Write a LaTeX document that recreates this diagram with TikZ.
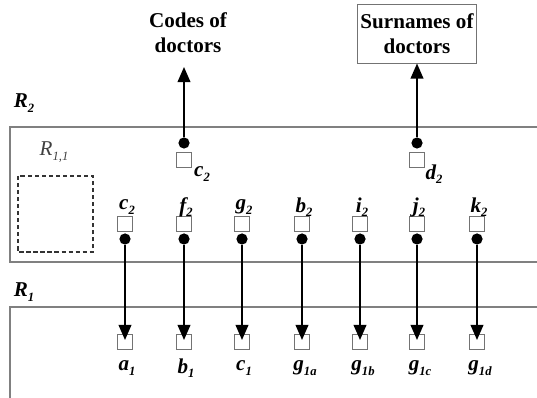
\documentclass[tikz,border=0pt]{standalone}
\usepackage{fontspec}
\setmainfont{Liberation Serif}
\usepackage{tikz}
\usetikzlibrary{arrows.meta,positioning}

% small lowered index
\newcommand{\ix}[1]{\raisebox{-0.45ex}{\fontsize{9}{9}\selectfont #1}}

\begin{document}
\begin{tikzpicture}[x=0.025cm,y=-0.025cm,
	slot/.style={rectangle,draw=black!55,fill=white,minimum size=0.36cm,inner sep=0pt,line width=0.6pt},
	pin/.style={circle,fill=black,minimum size=0.28cm,inner sep=0pt},
	lbl/.style={font=\fontsize{15}{17}\selectfont\bfseries\itshape,inner sep=1pt},
	rel/.style={font=\fontsize{15}{17}\selectfont\bfseries\itshape,inner sep=1pt},
	attr/.style={font=\fontsize{15}{18}\selectfont\bfseries,align=center,inner sep=2pt},
	link/.style={-{Triangle[length=3.8mm,width=3.2mm]},line width=1.2pt},
	wall/.style={draw=black!50,line width=0.8pt}
	]
	\useasboundingbox (0,0) rectangle (537,398);

	% relation frames, open to the right
	\draw[wall] (537,127) -- (10,127) -- (10,262) -- (537,262);
	\draw[wall] (537,307) -- (10,307) -- (10,398);
	\node[rel] (r2) at (24,103) {R\ix{2}};
	\node[rel] (r1) at (24,292) {R\ix{1}};

	% nested relation
	\node[font=\fontsize{15}{17}\selectfont\itshape,text=black!75] (r11) at (54,152) {R\ix{1,1}};
	\draw[black!80,densely dashed,line width=1pt] (18,176) rectangle (93,252);

	% output attributes
	\node[attr] (codes) at (188,33) {Codes of\\doctors};
	\node[attr,draw=black!55,line width=0.7pt,minimum width=2.9cm,minimum height=1.45cm] (surn) at (417,34) {Surnames of\\doctors};

	\node[slot] (kc) at (184,160) {};
	\node[slot] (kd) at (417,160) {};
	\node[pin] (pc) at (184,143) {};
	\node[pin] (pd) at (417,143) {};
	\node[lbl] at (202,174) {c\ix{2}};
	\node[lbl] at (434,174) {d\ix{2}};
	\draw[link] (pc) -- (184,67);
	\draw[link] (pd) -- (surn.south);

	% keys of R2
	\node[slot] (a2) at (125,224) {};
	\node[slot] (b2) at (184,224) {};
	\node[slot] (c2) at (242,224) {};
	\node[slot] (d2) at (302,224) {};
	\node[slot] (e2) at (360,224) {};
	\node[slot] (f2) at (417,224) {};
	\node[slot] (g2) at (477,224) {};
	\node[lbl] at (127,207) {c\ix{2}};
	\node[lbl] at (186,207) {f\ix{2}};
	\node[lbl] at (244,207) {g\ix{2}};
	\node[lbl] at (304,207) {b\ix{2}};
	\node[lbl] at (362,207) {i\ix{2}};
	\node[lbl] at (419,207) {j\ix{2}};
	\node[lbl] at (479,207) {k\ix{2}};
	\node[pin] (a2p) at (125,239) {};
	\node[pin] (b2p) at (184,239) {};
	\node[pin] (c2p) at (242,239) {};
	\node[pin] (d2p) at (302,239) {};
	\node[pin] (e2p) at (360,239) {};
	\node[pin] (f2p) at (417,239) {};
	\node[pin] (g2p) at (477,239) {};

	% keys of R1
	\node[slot] (a1) at (125,342) {};
	\node[slot] (b1) at (184,342) {};
	\node[slot] (c1) at (242,342) {};
	\node[slot] (d1) at (302,342) {};
	\node[slot] (e1) at (360,342) {};
	\node[slot] (f1) at (417,342) {};
	\node[slot] (g1) at (477,342) {};
	\node[lbl] at (127,368) {a\ix{1}};
	\node[lbl] at (186,368) {b\ix{1}};
	\node[lbl] at (244,368) {c\ix{1}};
	\node[lbl] at (305,368) {g\ix{1a}};
	\node[lbl] at (363,368) {g\ix{1b}};
	\node[lbl] at (420,368) {g\ix{1c}};
	\node[lbl] at (480,368) {g\ix{1d}};

	\draw[link] (a2p) -- ([yshift=-4pt]a1.north);
	\draw[link] (b2p) -- ([yshift=-4pt]b1.north);
	\draw[link] (c2p) -- ([yshift=-4pt]c1.north);
	\draw[link] (d2p) -- ([yshift=-4pt]d1.north);
	\draw[link] (e2p) -- ([yshift=-4pt]e1.north);
	\draw[link] (f2p) -- ([yshift=-4pt]f1.north);
	\draw[link] (g2p) -- ([yshift=-4pt]g1.north);
\end{tikzpicture}
\end{document}
